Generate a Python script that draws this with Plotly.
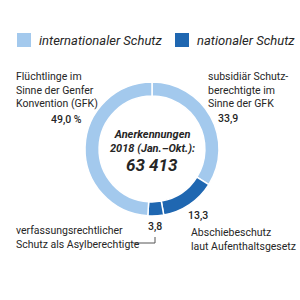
import plotly.graph_objects as go

categories = ["subsidiär Schutzberechtigte im Sinne der GFK",
              "Abschiebeschutz laut Aufenthaltsgesetz",
              "verfassungsrechtlicher Schutz als Asylberechtigte",
              "Flüchtlinge im Sinne der Genfer Konvention (GFK)"]
values = [33.9, 13.3, 3.8, 49.0]
groups = ["international", "national", "national", "international"]
legend_labels = ["internationaler Schutz", "nationaler Schutz"]
total_label = "63 413"

LIGHT = "#a3c9ed"
DARK = "#1f67b1"
colors = [LIGHT if g == "international" else DARK for g in groups]
TXT = "#262626"
FONT = "Roboto"

W = H = 300
cx, cy, R = 152, 149, 67

fig = go.Figure(go.Pie(
    values=values, labels=categories, sort=False, direction="clockwise",
    rotation=0, hole=0.79, textinfo="none", hoverinfo="label+value",
    marker=dict(colors=colors, line=dict(color="white", width=1.5)),
    domain=dict(x=[(cx - R) / W, (cx + R) / W], y=[(H - cy - R) / H, (H - cy + R) / H]),
    showlegend=False,
))

def px(x):
    return x / W

def py(y):
    return 1 - y / H

ann = []
def add(text, x, y, size=11, xanchor="left", yanchor="middle", align="left", weight=400, italic=False):
    ann.append(dict(text=text, x=px(x), y=py(y), xref="paper", yref="paper",
                    xanchor=xanchor, yanchor=yanchor, align=align, showarrow=False,
                    font=dict(family=FONT, size=size, color=TXT, weight=weight,
                              style="italic" if italic else "normal")))

# legend
shapes = []
for sx, label in [(17, legend_labels[0]), (175, legend_labels[1])]:
    col = LIGHT if label == legend_labels[0] else DARK
    shapes.append(dict(type="rect", xref="paper", yref="paper",
                       x0=px(sx), x1=px(sx + 14), y0=py(47), y1=py(33),
                       fillcolor=col, line=dict(width=0)))
    add(label, sx + 20, 40.5, size=13, italic=True)

# slice labels
add("Flüchtlinge im<br>Sinne der Genfer<br>Konvention (GFK)", 14, 90, size=10.5)
add(f"{values[3]:.1f} %".replace(".", ","), 66, 119, size=10.5, xanchor="center", weight=500)
add("subsidiär Schutz-<br>berechtigte im<br>Sinne der GFK", 206, 90, size=10.5)
add(f"{values[0]:.1f}".replace(".", ","), 228, 118.5, size=10.5, xanchor="center", weight=500)
add(f"{values[1]:.1f}".replace(".", ","), 198, 215, size=10.5, xanchor="center", weight=500)
add("Abschiebeschutz<br>laut Aufenthaltsgesetz", 189, 239, size=10.5)
add(f"{values[2]:.1f}".replace(".", ","), 155, 226, size=10.5, xanchor="center", weight=500)
add("verfassungsrechtlicher<br>Schutz als Asylberechtigte", 14, 237, size=10.5)

# leader line
shapes.append(dict(type="path", xref="paper", yref="paper",
                   path=f"M {px(133)},{py(243)} L {px(155)},{py(243)} L {px(155)},{py(237)}",
                   line=dict(color="#555555", width=1)))

# center text
add("Anerkennungen<br>2018 (Jan.–Okt.):", cx, 141, size=11, xanchor="center", align="center", weight=700, italic=True)
add(total_label, cx, 165, size=17, xanchor="center", align="center", weight=700, italic=True)

fig.update_layout(width=W, height=H, margin=dict(l=0, r=0, t=0, b=0),
                  paper_bgcolor="white", plot_bgcolor="white",
                  annotations=ann, shapes=shapes)
fig.write_html("out.html")
